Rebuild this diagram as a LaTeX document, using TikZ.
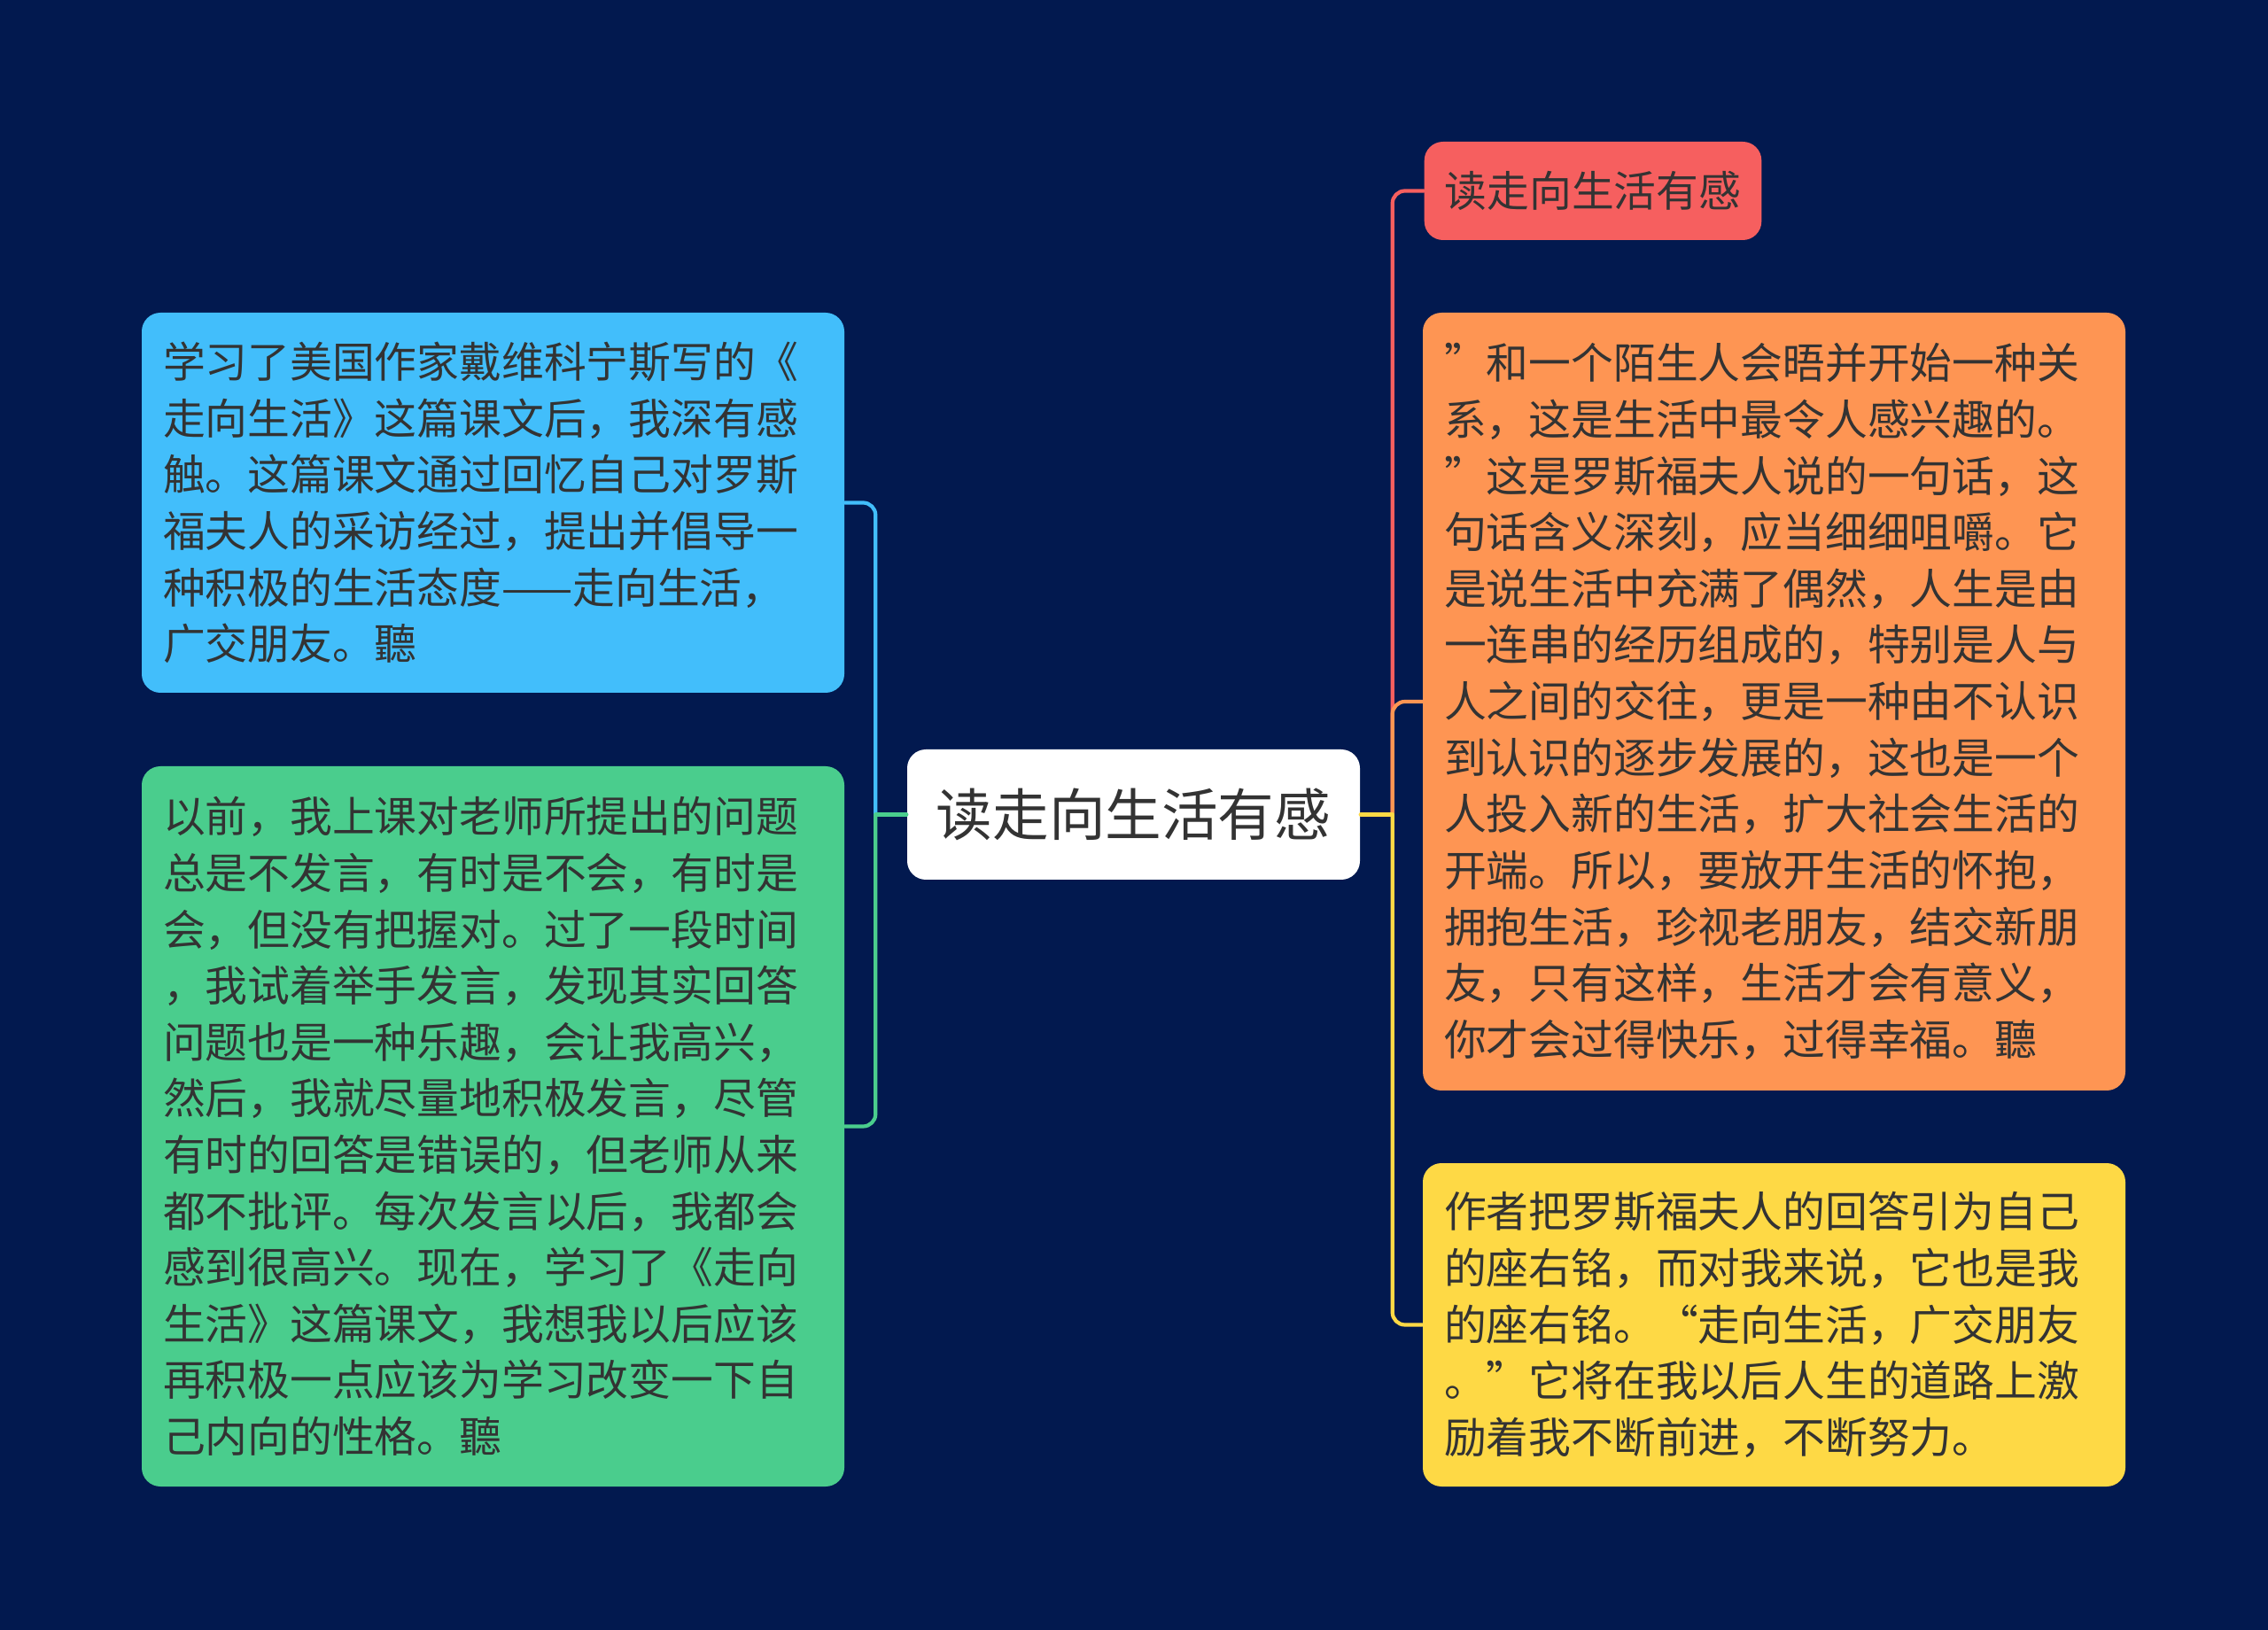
\documentclass[tikz,border=0pt]{standalone}
\usepackage{fontspec}
\setmainfont{Noto Sans CJK SC}
\usetikzlibrary{positioning}

\definecolor{navy}{HTML}{02194F}
\definecolor{inkgray}{HTML}{333333}
\definecolor{skyblue}{HTML}{42BEFB}
\definecolor{mintgreen}{HTML}{4ACD8D}
\definecolor{salmonred}{HTML}{F65F5F}
\definecolor{peach}{HTML}{FE9553}
\definecolor{sunyellow}{HTML}{FED945}

\begin{document}
\begin{tikzpicture}[line cap=round, line join=round,
  card/.style={rounded corners=6pt, text=inkgray, align=left, inner ysep=0pt,
    font=\fontsize{13.6pt}{18.1pt}\selectfont},
  leaf/.style={card, text width=7.45cm, inner xsep=0.24cm, minimum width=7.93cm},
  link/.style={line width=1.2pt, rounded corners=4pt}]
  % the background
  \fill[navy] (0,0) rectangle (25.6,-18.4);
  \useasboundingbox (0,0) rectangle (25.6,-18.4);
  % the root
  \node[card, fill=white, minimum width=5.11cm, minimum height=1.47cm,
        font=\fontsize{18.1pt}{22pt}\selectfont] (root) at (12.795,-9.195) {读走向生活有感};
  % left branches
  \node[leaf, fill=skyblue, minimum height=4.29cm] (intro) at (5.565,-5.675)
    {学习了美国作家戴维科宁斯写的《\\
     走向生活》这篇课文后，我深有感\\
     触。这篇课文通过回忆自己对罗斯\\
     福夫人的采访经过，提出并倡导一\\
     种积极的生活态度——走向生活，\\
     广交朋友。聽};
  \node[leaf, fill=mintgreen, minimum height=8.13cm] (myself) at (5.565,-12.715)
    {以前，我上课对老师所提出的问题\\
     总是不发言，有时是不会，有时是\\
     会，但没有把握对。过了一段时间\\
     ，我试着举手发言，发现其实回答\\
     问题也是一种乐趣，会让我高兴，\\
     然后，我就尽量地积极发言，尽管\\
     有时的回答是错误的，但老师从来\\
     都不批评。每次发言以后，我都会\\
     感到很高兴。现在，学习了《走向\\
     生活》这篇课文，我想我以后应该\\
     再积极一点应该为学习改变一下自\\
     己内向的性格。聽};
  % right branches
  \node[card, fill=salmonred, inner xsep=0.23cm, minimum height=1.11cm,
        anchor=west] (title) at (16.07,-2.155) {读走向生活有感};
  \node[leaf, fill=peach, minimum height=8.78cm] (quote) at (20.025,-7.92)
    {”和一个陌生人会晤并开始一种关\\
     系，这是生活中最令人感兴趣的。\\
     ”这是罗斯福夫人说的一句话，这\\
     句话含义深刻，应当细细咀嚼。它\\
     是说生活中充满了偶然，人生是由\\
     一连串的经历组成的，特别是人与\\
     人之间的交往，更是一种由不认识\\
     到认识的逐步发展的，这也是一个\\
     人投入新的生活，扩大社会生活的\\
     开端。所以，要放开生活的怀抱，\\
     拥抱生活，珍视老朋友，结交新朋\\
     友，只有这样，生活才会有意义，\\
     你才会过得快乐，过得幸福。聽};
  \node[leaf, fill=sunyellow, minimum height=3.65cm] (motto) at (20.025,-14.955)
    {作者把罗斯福夫人的回答引为自己\\
     的座右铭，而对我来说，它也是我\\
     的座右铭。“走向生活，广交朋友\\
     。”它将在我以后人生的道路上激\\
     励着我不断前进，不断努力。};
  % connectors
  \coordinate (lj) at ([xshift=-0.35cm]root.west);
  \coordinate (rj) at ([xshift=0.36cm]root.east);
  \draw[link, skyblue] (lj) |- (intro.east);
  \draw[link, mintgreen] (lj) |- (myself.east);
  \draw[link, mintgreen] (root.west) -- (lj);
  \draw[link, salmonred] (rj) |- (title.west);
  \draw[link, peach] (rj) |- (quote.west);
  \draw[link, sunyellow] (rj) |- (motto.west);
  \draw[link, sunyellow] (root.east) -- (rj);
\end{tikzpicture}
\end{document}
